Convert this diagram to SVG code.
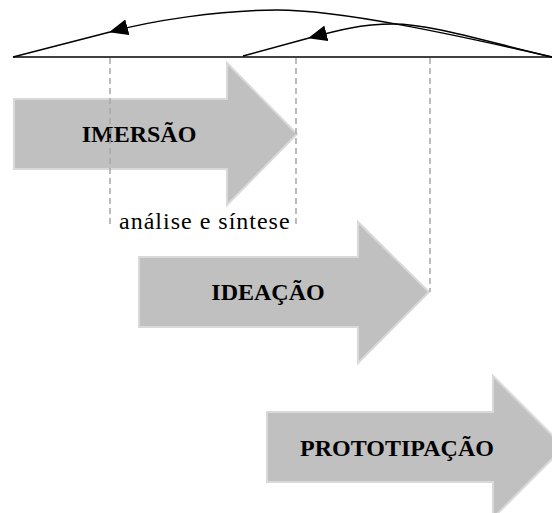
<svg xmlns="http://www.w3.org/2000/svg" width="552" height="513" viewBox="0 0 552 513">
  <style>
    .stage { fill: #c0c0c0; stroke: #d9d9d9; stroke-width: 2; stroke-linejoin: miter; }
    .title { font-family: "Liberation Serif", "Times New Roman", serif; font-weight: bold; font-size: 24px; fill: #000; text-anchor: middle; }
    .note { font-family: "Liberation Serif", "Times New Roman", serif; font-size: 24px; fill: #000; letter-spacing: 1px; }
    .guide { stroke: #a6a6a6; stroke-width: 1.5; stroke-dasharray: 6 4; fill: none; }
    .arc { stroke: #000; stroke-width: 1.5; fill: none; }
  </style>
  <defs>
    <marker id="head" viewBox="0 0 19 16" refX="18" refY="8" markerWidth="19" markerHeight="16" markerUnits="userSpaceOnUse" orient="auto">
      <path d="M0,0 L19,8 L0,16 Z" fill="#000"/>
    </marker>
  </defs>

  <rect width="552" height="513" fill="#fff"/>

  <!-- stage arrows -->
  <g id="imersao">
    <polygon class="stage" points="14,99 227,99 227,63 297,134 227,205 227,169 14,169"/>
    <text class="title" x="139" y="142">IMERSÃO</text>
  </g>
  <g id="ideacao">
    <polygon class="stage" points="139,257 358,257 358,222 429,292 358,363 358,327 139,327"/>
    <text class="title" x="268" y="300">IDEAÇÃO</text>
  </g>
  <g id="prototipacao">
    <polygon class="stage" points="267,412 493,412 493,376 564,447 493,518 493,482 267,482"/>
    <text class="title" x="397" y="456">PROTOTIPAÇÃO</text>
  </g>

  <!-- dashed guides dropped from the timeline -->
  <g id="guides">
    <line class="guide" x1="110" y1="58" x2="110" y2="228"/>
    <line class="guide" x1="296" y1="58" x2="296" y2="228"/>
    <line class="guide" x1="430" y1="58" x2="430" y2="292"/>
    <text class="note" x="119" y="229">análise e síntese</text>
  </g>

  <!-- timeline and feedback arcs -->
  <g id="connectors">
    <line class="arc" x1="13" y1="57" x2="552" y2="57"/>
    <path class="arc" d="M552,57 C452,34 340,10 277,10 C220,10 150,21 110,32" marker-end="url(#head)"/>
    <path class="arc" d="M110,32 L13,57"/>
    <path class="arc" d="M552,57 C480,40 430,24 393,24 C360,24 335,31 309,38" marker-end="url(#head)"/>
    <path class="arc" d="M309,38 L243,56"/>
  </g>
</svg>
